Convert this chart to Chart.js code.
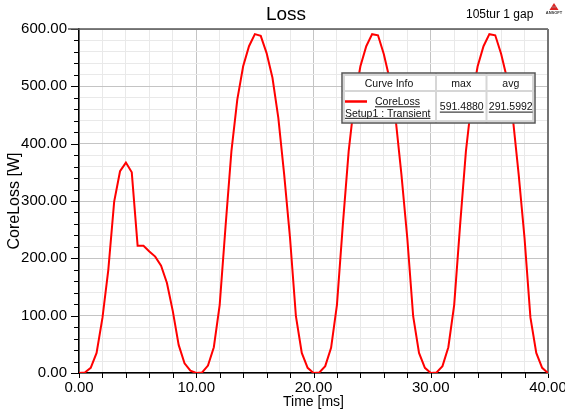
<!DOCTYPE html>
<html><head><meta charset="utf-8">
<script src="https://cdn.jsdelivr.net/npm/chart.js@4"></script>
<style>html,body{margin:0;padding:0;background:#fff}#wrap{width:565px;height:412px;position:relative}</style>
</head><body><div id="wrap"><canvas id="c" width="565" height="412"></canvas></div>
<script>
// ---- data ----
const timeMs = [
  0, 0.5, 1, 1.5, 2, 2.5, 3, 3.5, 4, 4.5, 5, 5.5, 6, 6.5, 7, 7.5, 8, 8.5, 9, 9.5,
  10, 10.5, 11, 11.5, 12, 12.5, 13, 13.5, 14, 14.5, 15, 15.5, 16, 16.5, 17, 17.5, 18, 18.5, 19, 19.5,
  20, 20.5, 21, 21.5, 22, 22.5, 23, 23.5, 24, 24.5, 25, 25.5, 26, 26.5, 27, 27.5, 28, 28.5, 29, 29.5,
  30, 30.5, 31, 31.5, 32, 32.5, 33, 33.5, 34, 34.5, 35, 35.5, 36, 36.5, 37, 37.5, 38, 38.5, 39, 39.5,
  40
];
const coreLoss = [
  0, 1, 9, 35, 96, 180, 299, 352, 367, 350, 222, 222, 212, 203, 187, 157, 108, 49, 17, 4,
  0, 1, 13, 45, 119, 256, 387, 477, 535, 570, 591, 588, 558, 515, 445, 346, 235, 99, 35, 9,
  0, 1, 12, 44, 119, 258, 387, 477, 535, 570, 591, 589, 556, 512, 444, 346, 235, 99, 35, 9,
  0, 1, 12, 45, 119, 257, 387, 477, 535, 570, 591, 589, 557, 514, 445, 346, 235, 97, 35, 9,
  0
];
const xRange = [0, 40];
const yRange = [0, 600];
const xMinorStep = 2, xMajorStep = 10;
const yMinorStep = 20, yMajorStep = 100;
const chartTitle = 'Loss';
const subTitle = '105tur 1 gap';
const logoText = 'ANSOFT';
const xTitle = 'Time [ms]';
const yTitle = 'CoreLoss [W]';
const legendHeaders = ['Curve Info', 'max', 'avg'];
const curveName = 'CoreLoss';
const curveSetup = 'Setup1 : Transient';
const curveMax = '591.4880';
const curveAvg = '291.5992';

const FONT = '"Liberation Sans", Arial, sans-serif';
const points = timeMs.map((t, i) => ({x: t, y: coreLoss[i]}));

function gridColor(step) {
  return ctx => (Math.abs(ctx.tick.value % step) < 1e-9 ? '#c4c4c4' : '#e9e9e9');
}

const overlay = {
  id: 'overlay',
  beforeDatasetsDraw(chart) {
    const {ctx, chartArea: a, scales: {x, y}} = chart;
    ctx.save();
    ctx.strokeStyle = '#000';
    ctx.lineWidth = 1;
    x.ticks.forEach(t => {
      const px = Math.round(x.getPixelForValue(t.value)) + 0.5;
      const len = 5;
      ctx.beginPath(); ctx.moveTo(px, a.bottom); ctx.lineTo(px, a.bottom + len); ctx.stroke();
    });
    y.ticks.forEach(t => {
      const py = Math.round(y.getPixelForValue(t.value)) + 0.5;
      const len = (t.value % yMajorStep === 0) ? 8 : 5;
      ctx.beginPath(); ctx.moveTo(a.left - len, py); ctx.lineTo(a.left, py); ctx.stroke();
    });
    // top & right frame
    ctx.strokeStyle = '#555';
    ctx.lineWidth = 1.5;
    ctx.beginPath(); ctx.moveTo(a.left - 11, a.top); ctx.lineTo(a.right, a.top); ctx.stroke();
    ctx.strokeStyle = '#747474';
    ctx.lineWidth = 2;
    ctx.beginPath(); ctx.moveTo(a.right, a.top); ctx.lineTo(a.right, a.bottom + 1); ctx.stroke();
    ctx.restore();
  },
  afterDraw(chart) {
    const ctx = chart.ctx;
    ctx.save();
    // titles
    ctx.fillStyle = '#000';
    ctx.textBaseline = 'alphabetic';
    ctx.textAlign = 'center';
    ctx.font = '19px ' + FONT;
    ctx.fillText(chartTitle, 286, 20);
    ctx.textAlign = 'left';
    ctx.font = '12px ' + FONT;
    ctx.fillText(subTitle, 466, 17.5);
    // logo
    ctx.fillStyle = '#d22';
    ctx.beginPath(); ctx.moveTo(554, 3); ctx.lineTo(549.5, 10); ctx.lineTo(558.5, 10); ctx.closePath(); ctx.fill();
    ctx.strokeStyle = '#999'; ctx.lineWidth = 0.8;
    ctx.beginPath(); ctx.moveTo(552, 7); ctx.lineTo(556, 7); ctx.stroke();
    ctx.fillStyle = '#333';
    ctx.font = 'bold 4px ' + FONT;
    ctx.textAlign = 'center';
    ctx.fillText(logoText, 554, 14);

    // legend table
    const L = 342, T = 73, R = 535, B = 123, H = 91, C1 = 436, C2 = 486.5;
    ctx.fillStyle = '#fff';
    ctx.fillRect(L, T, R - L, B - T);
    ctx.strokeStyle = '#d6d6d6';
    ctx.lineWidth = 2;
    ctx.strokeRect(L + 2, T + 2, R - L - 4, B - T - 4);
    ctx.beginPath();
    ctx.moveTo(L, H); ctx.lineTo(R, H);
    ctx.moveTo(C1, T); ctx.lineTo(C1, B);
    ctx.moveTo(C2, T); ctx.lineTo(C2, B);
    ctx.stroke();
    ctx.strokeStyle = '#555';
    ctx.lineWidth = 1.5;
    ctx.strokeRect(L, T, R - L, B - T);

    ctx.fillStyle = '#111';
    ctx.font = '10.5px ' + FONT;
    ctx.textAlign = 'center';
    ctx.fillText(legendHeaders[0], (L + C1) / 2, 86.5);
    ctx.fillText(legendHeaders[1], (C1 + C2) / 2, 86.5);
    ctx.fillText(legendHeaders[2], (C2 + R) / 2, 86.5);

    function under(text, x0, yb, align) {
      const w = ctx.measureText(text).width;
      ctx.textAlign = align;
      ctx.fillText(text, x0, yb);
      const sx = align === 'center' ? x0 - w / 2 : x0;
      ctx.strokeStyle = '#111';
      ctx.lineWidth = 1;
      ctx.beginPath(); ctx.moveTo(sx, yb + 1.8); ctx.lineTo(sx + w, yb + 1.8); ctx.stroke();
    }
    under(curveName, 375, 105, 'left');
    under(curveSetup, 345, 116.5, 'left');
    under(curveMax, (C1 + C2) / 2 + 0.5, 110.3, 'center');
    under(curveAvg, (C2 + R) / 2, 110.3, 'center');
    // line sample
    ctx.strokeStyle = '#ff0000';
    ctx.lineWidth = 2.5;
    ctx.beginPath(); ctx.moveTo(345, 101.5); ctx.lineTo(367, 101.5); ctx.stroke();
    ctx.restore();
  }
};

new Chart(document.getElementById('c'), {
  type: 'line',
  data: {
    datasets: [{
      label: curveName,
      data: points,
      borderColor: '#ff0000',
      borderWidth: 2,
      pointRadius: 0,
      tension: 0,
      fill: false
    }]
  },
  options: {
    responsive: false,
    animation: false,
    devicePixelRatio: 1,
    layout: {padding: {top: 29, right: 17, left: 0, bottom: 0}},
    plugins: {legend: {display: false}, tooltip: {enabled: false}, title: {display: false}},
    scales: {
      x: {
        type: 'linear',
        min: xRange[0], max: xRange[1],
        ticks: {
          stepSize: xMinorStep, autoSkip: false, maxRotation: 0, padding: 6,
          color: '#000', font: {family: FONT, size: 15},
          callback: v => (v % xMajorStep === 0 ? v.toFixed(2) : '')
        },
        grid: {drawTicks: false, color: gridColor(xMajorStep), lineWidth: 1},
        border: {display: true, color: '#000', width: 1.5},
        title: {display: true, text: xTitle, color: '#000', font: {family: FONT, size: 14}, padding: {top: 0, bottom: 1}},
        afterFit: s => { s.height = 39; s.paddingLeft = 0; s.paddingRight = 0; }
      },
      y: {
        min: yRange[0], max: yRange[1],
        ticks: {
          stepSize: yMinorStep, autoSkip: false, padding: 12,
          color: '#000', font: {family: FONT, size: 15},
          callback: v => (v % yMajorStep === 0 ? v.toFixed(2) : '')
        },
        grid: {drawTicks: false, color: gridColor(yMajorStep), lineWidth: 1},
        border: {display: true, color: '#000', width: 1.5},
        title: {display: true, text: yTitle, color: '#000', font: {family: FONT, size: 16}, padding: {top: 5, bottom: 0}},
        afterFit: s => { s.width = 79; }
      }
    }
  },
  plugins: [overlay]
});
</script>
</body></html>
